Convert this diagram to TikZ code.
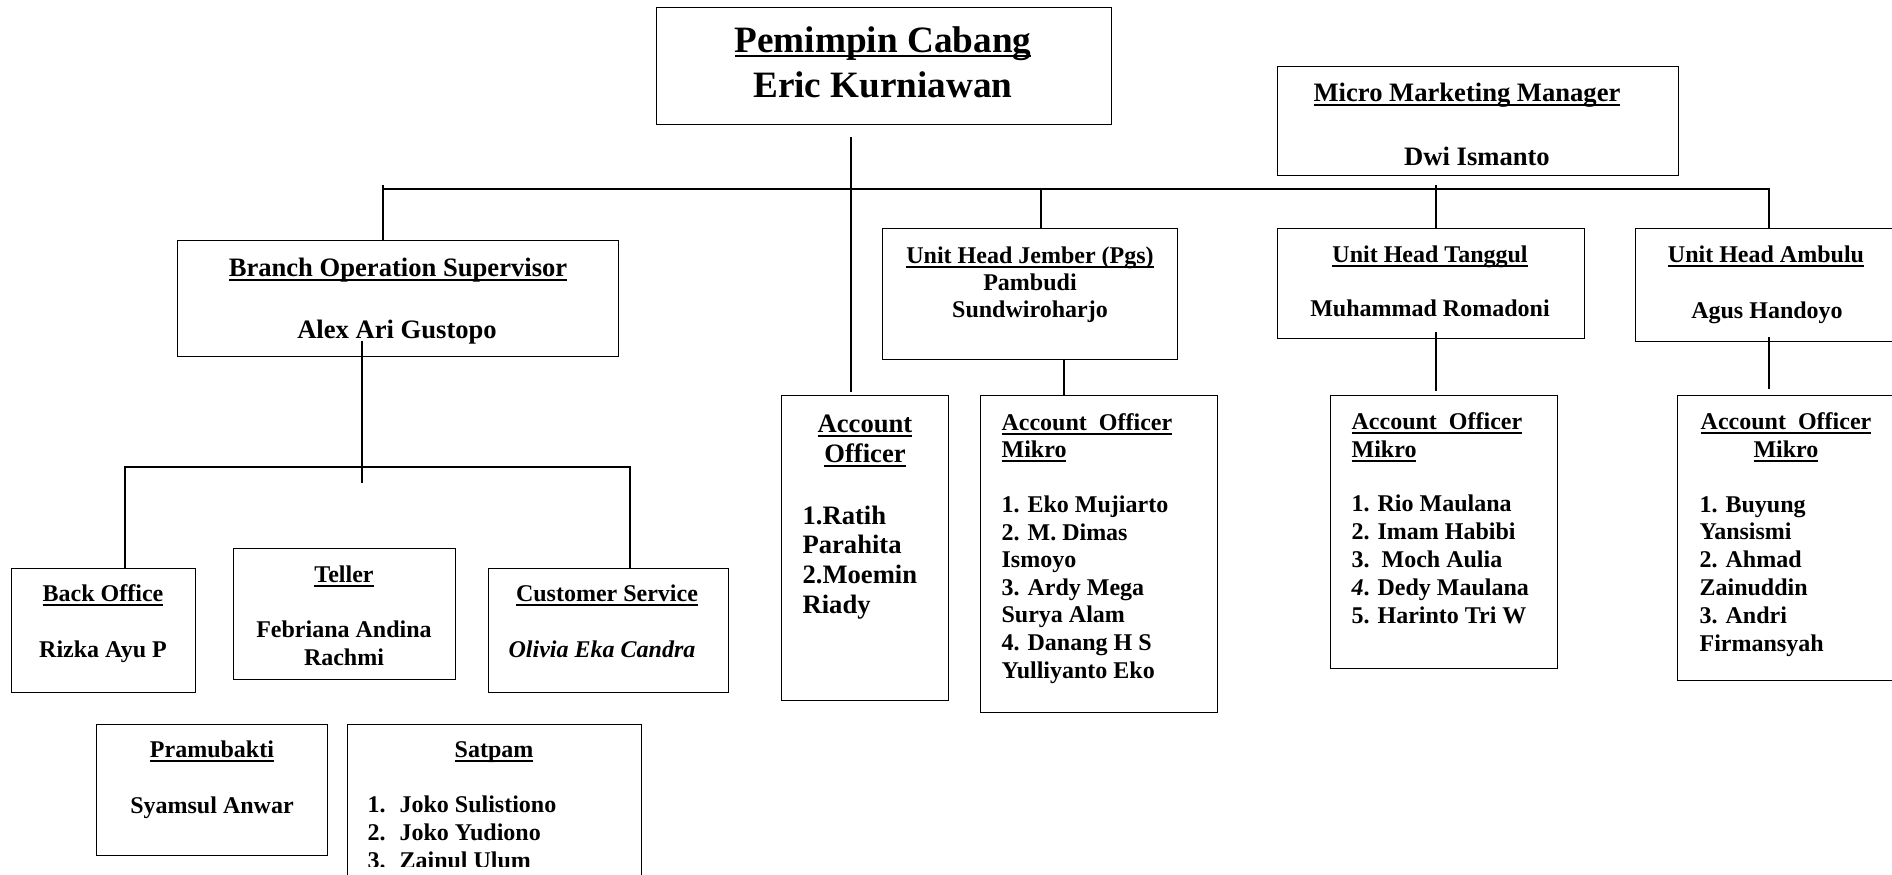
\documentclass[tikz,border=0pt]{standalone}
\usepackage{fontspec}
\setmainfont{Liberation Serif}
\usetikzlibrary{calc}
\newcommand\undl[1]{\setbox0\hbox{#1}\rlap{\rule[-2.4pt]{\wd0}{0.8pt}}#1}

\begin{document}
\begin{tikzpicture}
[x = 0.5pt, y = -0.5pt, line width = 0.6pt]
\tikzset{
	org box/.style 2 args = {draw, line width = 0.7pt, anchor = north west, inner sep = 0, minimum width = #1*0.5pt, minimum height = #2*0.5pt},
	txt/.style = {anchor = base, inner sep = 0, align = center, font = \bfseries\fontsize{12}{13.8}\selectfont},
	big txt/.style = {txt, font = \bfseries\fontsize{13.3}{15}\selectfont},
	list/.style = {txt, anchor = base west, align = left, font = \bfseries\fontsize{12}{13.85}\selectfont},
}

\useasboundingbox (0,0) rectangle (1892,874);
\clip (0,0) rectangle (1892,874);
\fill[white] (0,0) rectangle (1892,874);

\node(pc)[org box = {455}{117}] at (656,7) {};
\node(mmm)[org box = {401}{109}] at (1277,66) {};
\node(bos)[org box = {441}{116}] at (177,240) {};
\node(jem)[org box = {295}{131}] at (882,228) {};
\node(tgl)[org box = {307}{110}] at (1277,228) {};
\node(amb)[org box = {262}{113}] at (1635,228) {};
\node(ao)[org box = {167}{305}] at (781,395) {};
\node(aoj)[org box = {237}{317}] at (980,395) {};
\node(aot)[org box = {227}{273}] at (1330,395) {};
\node(aoa)[org box = {218}{285}] at (1677,395) {};
\node(bo)[org box = {184}{124}] at (11,568) {};
\node(tel)[org box = {222}{131}] at (233,548) {};
\node(cs)[org box = {240}{124}] at (488,568) {};
\node(pra)[org box = {231}{131}] at (96,724) {};
\node(sat)[org box = {294}{200}] at (347,724) {};

% multi-line texts sit on the baseline of their last line
\node(pc-t)[txt, font = \bfseries\fontsize{18.6}{22.5}\selectfont] at (883,97) {\undl{Pemimpin Cabang}\\Eric Kurniawan};
\node(mmm-t)[big txt] at (1467,101) {\undl{Micro Marketing Manager}};
\node(mmm-n)[big txt] at (1477,165) {Dwi Ismanto};
\node(bos-t)[big txt] at (398,276) {\undl{Branch Operation Supervisor}};
\node(bos-n)[big txt] at (397,338) {Alex Ari Gustopo};
\node(jem-t)[txt] at (1030,263) {\undl{Unit Head Jember (Pgs)}};
\node(jem-n)[txt, font = \bfseries\fontsize{12}{13.5}\selectfont] at (1030,317) {Pambudi\\Sundwiroharjo};
\node(tgl-t)[txt] at (1430,262) {\undl{Unit Head Tanggul}};
\node(tgl-n)[txt] at (1430,316) {Muhammad Romadoni};
\node(amb-t)[txt] at (1766,262) {\undl{Unit Head Ambulu}};
\node(amb-n)[txt] at (1767,318) {Agus Handoyo};

\node(ao-t)[big txt] at (865,462) {\undl{Account}\\\undl{Officer}};
\node(ao-l)[list, font = \bfseries\fontsize{13.3}{14.8}\selectfont] at (802,613) {1.Ratih\\Parahita\\2.Moemin\\Riady};
\node(aoj-t)[list, font = \bfseries\fontsize{12}{13.5}\selectfont] at (1001,457) {\undl{Account\ \ Officer}\\\undl{Mikro}};
\node(aoj-l)[list, font = \bfseries\fontsize{12}{13.8}\selectfont] at (1001,678) {1. Eko Mujiarto\\2. M. Dimas\\Ismoyo\\3. Ardy Mega\\Surya Alam\\4. Danang H S\\Yulliyanto Eko};
\node(aot-t)[list, font = \bfseries\fontsize{12}{14}\selectfont] at (1351,457) {\undl{Account\ \ Officer}\\\undl{Mikro}};
\node(aot-l)[list, font = \bfseries\fontsize{12}{13.9}\selectfont] at (1351,623) {1. Rio Maulana\\2. Imam Habibi\\3.\ \ Moch Aulia\\\textit{4}. Dedy Maulana\\5. Harinto Tri W};
\node(aoa-t)[txt, font = \bfseries\fontsize{12}{14}\selectfont] at (1786,457) {\undl{Account\ \ Officer}\\\undl{Mikro}};
\node(aoa-l)[list, font = \bfseries\fontsize{12}{13.9}\selectfont] at (1699,651) {1. Buyung\\Yansismi\\2. Ahmad\\Zainuddin\\3. Andri\\Firmansyah};

\node(bo-t)[txt] at (103,601) {\undl{Back Office}};
\node(bo-n)[txt] at (103,657) {Rizka Ayu P};
\node(tel-t)[txt] at (344,582) {\undl{Teller}};
\node(tel-n)[txt, font = \bfseries\fontsize{12}{14}\selectfont] at (344,665) {Febriana Andina\\Rachmi};
\node(cs-t)[txt] at (607,601) {\undl{Customer Service}};
\node(cs-n)[txt, font = \bfseries\itshape\fontsize{12}{14}\selectfont] at (602,657) {Olivia Eka Candra};
\node(pra-t)[txt] at (212,757) {\undl{Pramubakti}};
\node(pra-n)[txt] at (212,813) {Syamsul Anwar};
\node(sat-t)[txt] at (494,757) {\undl{Satpam}};
\begin{scope}
\clip (0,0) rectangle (1892,866);
\node(sat-l)[list, font = \bfseries\fontsize{12}{14}\selectfont] at (367,868) {\makebox[16pt][l]{1.}Joko Sulistiono\\\makebox[16pt][l]{2.}Joko Yudiono\\\makebox[16pt][l]{3.}Zainul Ulum};
\end{scope}

\coordinate (trunk) at (851,137);
\coordinate (barL) at (383,189);
\coordinate (barR) at (1769,189);
\coordinate (dJ) at (1041,189);
\coordinate (dT) at (1436,185);
\coordinate (bosStem) at (362,341);
\coordinate (subL) at (125,467);
\coordinate (subR) at (630,467);
\coordinate (dJ2) at (1064,359);
\coordinate (dT2) at (1436,332);
\coordinate (dA2) at (1769,337);

\draw (trunk) -- ($(trunk |- ao.north)+(0,-3)$);
\draw ($(barL)+(0,-4)$) -- (barL |- bos.north);
\draw (barL) -- (barR) -- (barR |- amb.north);
\draw (dJ) -- (dJ |- jem.north);
\draw (dT) -- (dT |- tgl.north);
\draw (bosStem) -- ++(0,142);
\draw (subL |- bo.north) -- (subL) -- (subR) -- (subR |- cs.north);
\draw (dJ2) -- (dJ2 |- aoj.north);
\draw (dT2) -- ($(dT2 |- aot.north)+(0,-4)$);
\draw (dA2) -- ($(dA2 |- aoa.north)+(0,-6)$);

\end{tikzpicture}
\end{document}
